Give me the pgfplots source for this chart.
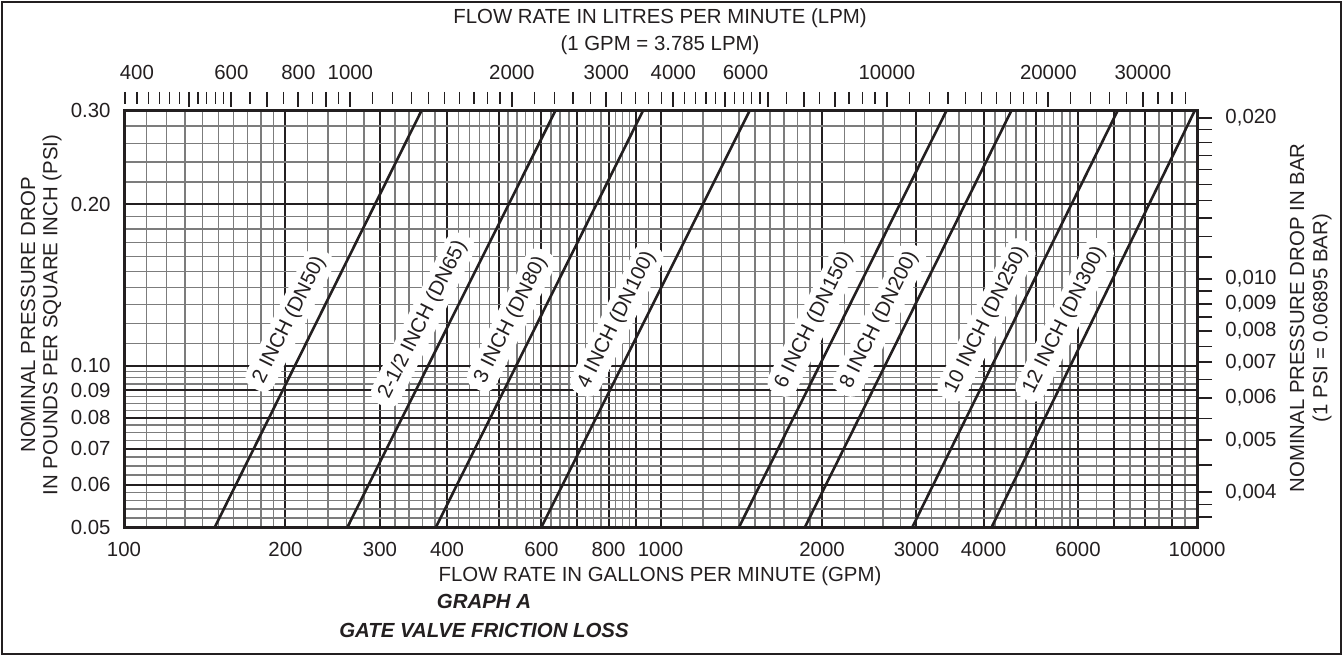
\documentclass[border=0pt]{standalone}
\usepackage{fontspec}
\setmainfont{Liberation Sans}
\usepackage{pgfplots}
\pgfplotsset{compat=1.18}
\definecolor{ink}{HTML}{231F20}
\definecolor{gridgray}{HTML}{7C7C7C}
\newcommand{\fs}{\fontsize{10.2}{12}\selectfont}
\begin{document}
\begin{tikzpicture}[font=\fs]
\path (0,0) rectangle (671.5pt,-328pt);
\draw[ink, line width=1.1pt] (1pt,-1pt) rectangle (670.5pt,-327pt);

% main PSI / GPM axis
\begin{axis}[
  at={(62pt,-263.5pt)}, anchor=south west,
  scale only axis, width=536.5pt, height=208.5pt,
  xmode=log, ymode=log,
  xmin=100, xmax=10000, ymin=0.05, ymax=0.30,
  xtick={100,200,300,400,500,600,700,800,900,1000,2000,3000,4000,5000,6000,7000,8000,9000,10000},
  xticklabels={100,200,300,400,,600,,800,,1000,2000,3000,4000,,6000,,,,10000},
  minor xtick={110,120,130,140,150,160,170,180,190,220,240,260,280,320,340,360,380,420,440,460,480,520,540,560,580,625,650,675,725,750,775,825,850,875,950,1100,1200,1300,1400,1500,1600,1700,1800,1900,2200,2400,2600,2800,3200,3400,3600,3800,4200,4400,4600,4800,5200,5400,5600,5800,6500,7500,8500,9500},
  ytick={0.05,0.06,0.07,0.08,0.09,0.1,0.2,0.3},
  yticklabels={0.05,0.06,0.07,0.08,0.09,0.10,0.20,0.30},
  minor ytick={0.052,0.054,0.056,0.058,0.0625,0.065,0.0675,0.0725,0.075,0.0775,0.0825,0.085,0.0875,0.0925,0.095,0.0975,0.11,0.12,0.13,0.14,0.15,0.16,0.17,0.18,0.19,0.22,0.24,0.26,0.28},
  grid=both,
  major grid style={ink, line width=1pt},
  minor grid style={gridgray, line width=0.7pt},
  major tick length=0pt, minor tick length=0pt,
  axis line style={ink, line width=1.5pt},
  ticklabel style={font=\fs, text=ink},
  xticklabel style={yshift=-4pt},
  yticklabel style={xshift=-3.2pt},
  clip=true,
]
\addplot[ink, line width=1.3pt] coordinates {(147.7,0.05) (359,0.30)};
\addplot[ink, line width=1.3pt] coordinates {(261,0.05) (638,0.30)};
\addplot[ink, line width=1.3pt] coordinates {(381.6,0.05) (929,0.30)};
\addplot[ink, line width=1.3pt] coordinates {(600,0.05) (1468,0.30)};
\addplot[ink, line width=1.3pt] coordinates {(1401,0.05) (3417,0.30)};
\addplot[ink, line width=1.3pt] coordinates {(1859,0.05) (4515,0.30)};
\addplot[ink, line width=1.3pt] coordinates {(2948,0.05) (7123,0.30)};
\addplot[ink, line width=1.3pt] coordinates {(4143,0.05) (9916,0.30)};
\tikzset{lbl/.style={rotate=63.43, fill=white, rounded corners=6pt, inner xsep=4pt, inner ysep=3pt, text=ink, font=\fs}}
\node[lbl] at (axis cs:203.5,0.1217) {2 INCH (DN50)};
\node[lbl] at (axis cs:360.8,0.1217) {2-1/2 INCH (DN65)};
\node[lbl] at (axis cs:526.3,0.1217) {3 INCH (DN80)};
\node[lbl] at (axis cs:829.2,0.1217) {4 INCH (DN100)};
\node[lbl] at (axis cs:1933,0.1217) {6 INCH (DN150)};
\node[lbl] at (axis cs:2560,0.1217) {8 INCH (DN200)};
\node[lbl] at (axis cs:4050,0.1217) {10 INCH (DN250)};
\node[lbl] at (axis cs:5664,0.1217) {12 INCH (DN300)};
\end{axis}

% right BAR axis
\begin{axis}[
  at={(62pt,-263.5pt)}, anchor=south west,
  scale only axis, width=536.5pt, height=208.5pt,
  ymode=log, ymin=0.0034475, ymax=0.020685, xmin=0, xmax=1,
  axis y line*=right, hide x axis,
  y axis line style={draw=none},
  ytick={0.004,0.005,0.006,0.007,0.008,0.009,0.010,0.020},
  yticklabels={{0,004},{0,005},{0,006},{0,007},{0,008},{0,009},{0,010},{0,020}},
  minor ytick={0.0036,0.0038,0.0045,0.0055,0.0065,0.0075,0.0085,0.0095,0.011,0.012,0.013,0.014,0.015,0.016,0.017,0.018,0.019},
  tick align=outside, major tick length=7.5pt, minor tick length=7.5pt,
  every major tick/.append style={ink, line width=1pt},
  every minor tick/.append style={ink, line width=0.6pt},
  ticklabel style={font=\fs, text=ink},
  yticklabel style={xshift=3.2pt},
]
\end{axis}

% top LPM ticks
\begin{axis}[
  at={(62pt,-46pt)}, anchor=north west,
  scale only axis, width=536.5pt, height=10pt,
  xmode=log, xmin=378.5, xmax=37850, ymin=0, ymax=1,
  axis x line*=top, hide y axis,
  x axis line style={draw=none},
  tick align=inside,
  xtick={500,600,700,800,900,1000,2000,3000,4000,5000,6000,7000,8000,10000,20000,30000},
  xticklabels={},
  minor xtick={380,400,420,440,460,480,520,540,560,580,650,750,850,950,1100,1200,1300,1400,1500,1600,1700,1800,1900,2200,2400,2600,2800,3200,3400,3600,3800,4200,4400,4600,4800,5200,5400,5600,5800,6500,7500,8500,9000,9500,11000,12000,13000,14000,15000,16000,17000,18000,19000,22000,24000,26000,28000,32000,34000,36000},
  major tick length=7.5pt, minor tick length=6pt,
  every major tick/.append style={ink, line width=1pt},
  every minor tick/.append style={ink, line width=0.6pt},
]
\end{axis}

% top LPM labels
\begin{axis}[
  at={(62pt,-46pt)}, anchor=north west,
  scale only axis, width=536.5pt, height=10pt,
  xmode=log, xmin=378.5, xmax=37850, ymin=0, ymax=1,
  axis x line*=top, hide y axis,
  x axis line style={draw=none},
  xtick={400,600,800,1000,2000,3000,4000,5450,10000,20000,30000},
  xticklabels={400,600,800,1000,2000,3000,4000,6000,10000,20000,30000},
  major tick length=0pt, minor tick length=0pt,
  ticklabel style={font=\fs, text=ink},
  xticklabel style={yshift=2.6pt},
]
\end{axis}

% texts
\node[text=ink] at (330pt,-9pt) {FLOW RATE IN LITRES PER MINUTE (LPM)};
\node[text=ink] at (330pt,-22.5pt) {(1 GPM = 3.785 LPM)};
\node[text=ink] at (330pt,-288pt) {FLOW RATE IN GALLONS PER MINUTE (GPM)};
\node[text=ink, font=\fs\bfseries\itshape] at (242pt,-300.5pt) {GRAPH A};
\node[text=ink, font=\fs\bfseries\itshape] at (242pt,-315pt) {GATE VALVE FRICTION LOSS};
\node[text=ink, rotate=90] at (14pt,-157.5pt) {NOMINAL PRESSURE DROP};
\node[text=ink, rotate=90] at (26pt,-157.5pt) {IN POUNDS PER SQUARE INCH (PSI)};
\node[text=ink, rotate=90] at (648.5pt,-159pt) {NOMINAL PRESSURE DROP IN BAR};
\node[text=ink, rotate=90] at (661pt,-159pt) {(1 PSI = 0.06895 BAR)};
\end{tikzpicture}
\end{document}
